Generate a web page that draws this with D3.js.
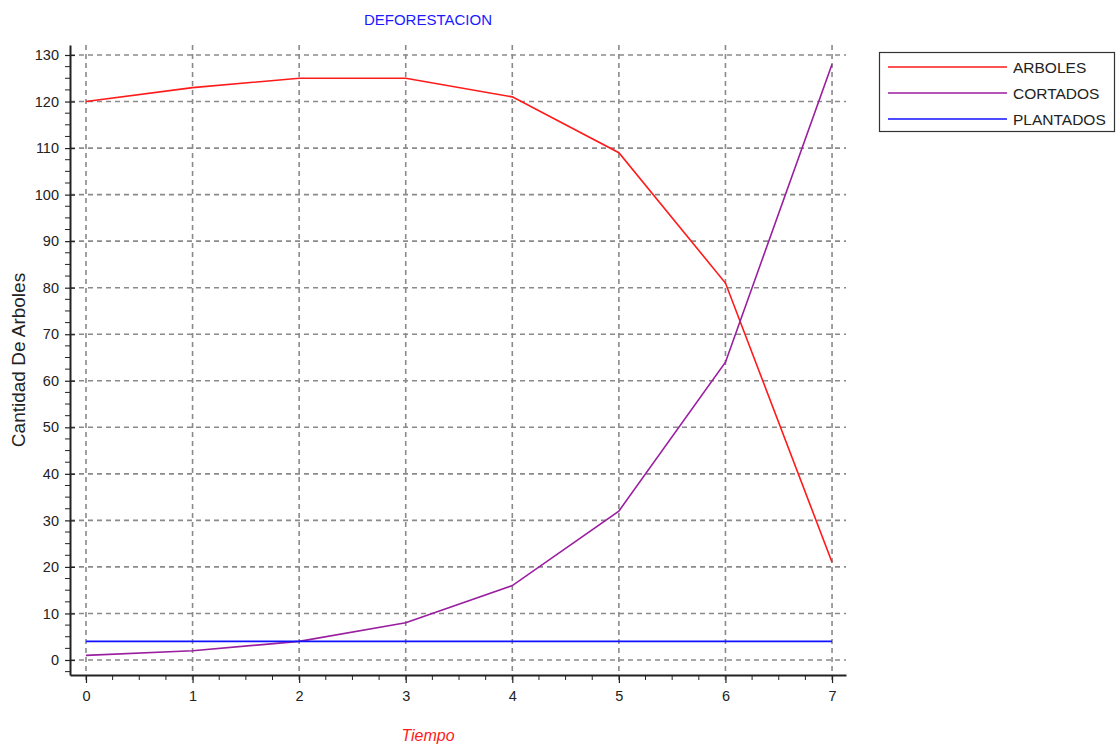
<!DOCTYPE html>
<html><head><meta charset="utf-8">
<script src="https://cdn.jsdelivr.net/npm/d3@7"></script>
<style>
body{margin:0;background:#fff;}
svg{display:block;font-family:"Liberation Sans",Arial,sans-serif;}
</style></head>
<body>
<svg id="c" width="1116" height="746"></svg>
<script>
const tiempo = [0, 1, 2, 3, 4, 5, 6, 7];
const arboles = [120, 123, 125, 125, 121, 109, 81, 21];
const cortados = [1, 2, 4, 8, 16, 32, 64, 128];
const plantados = [4, 4, 4, 4, 4, 4, 4, 4];
const seriesNames = ["ARBOLES", "CORTADOS", "PLANTADOS"];
const seriesColors = ["#ff1a1a", "#9a1ea0", "#1010ff"];
const yTickValues = [0, 10, 20, 30, 40, 50, 60, 70, 80, 90, 100, 110, 120, 130];
const xTickValues = [0, 1, 2, 3, 4, 5, 6, 7];
const xMinor = [];
for (let v = 0.25; v < 7.1; v += 0.25) if (Math.abs(v - Math.round(v)) > 1e-6) xMinor.push(v);
const yMinor = [];
for (let v = -2.5; v < 131; v += 2.5) if (Math.abs(v / 10 - Math.round(v / 10)) > 1e-6) yMinor.push(v);

const svg = d3.select("#c");
const x = d3.scaleLinear().domain([-0.15, 7.131]).range([70, 846]);
const y = d3.scaleLinear().domain([-3.223, 132.15]).range([675, 45]);

// grid
const grid = svg.append("g").attr("stroke", "#8a8a8a").attr("stroke-width", 1.6).attr("stroke-dasharray", "5,4");
grid.selectAll("line.h").data(yTickValues).join("line")
  .attr("x1", x.range()[0]).attr("x2", x.range()[1])
  .attr("y1", d => y(d)).attr("y2", d => y(d));
grid.selectAll("line.v").data(xTickValues).join("line")
  .attr("x1", d => x(d)).attr("x2", d => x(d))
  .attr("y1", y.range()[1]).attr("y2", y.range()[0] + 8);

// axes
const yAxis = svg.append("g").attr("transform", `translate(${x.range()[0]},0)`)
  .call(d3.axisLeft(y).tickValues(yTickValues).tickSizeOuter(0).tickSizeInner(5).tickPadding(6));
yAxis.selectAll(".tick line").attr("x2", -5).attr("x1", 5);
yAxis.append("g").selectAll("line").data(yMinor).join("line")
  .attr("x1", -5).attr("x2", 0).attr("y1", d => y(d)).attr("y2", d => y(d)).attr("stroke", "#222");

const xAxis = svg.append("g").attr("transform", `translate(0,${y.range()[0]})`)
  .call(d3.axisBottom(x).tickValues(xTickValues).tickSizeOuter(0).tickSizeInner(8).tickPadding(8));
xAxis.append("g").selectAll("line").data(xMinor).join("line")
  .attr("x1", d => x(d)).attr("x2", d => x(d)).attr("y1", 0).attr("y2", 5).attr("stroke", "#222");

[yAxis, xAxis].forEach(a => {
  a.select(".domain").attr("stroke", "#222").attr("stroke-width", 2);
  a.selectAll(".tick line").attr("stroke", "#222").attr("stroke-width", 1.2);
  a.selectAll(".tick text").attr("fill", "#222").style("font-size", "14.5px").style("font-family", "'Liberation Sans',Arial,sans-serif");
});

// lines
const seriesData = [arboles, cortados, plantados];
const line = d3.line().x((d, i) => x(tiempo[i])).y(d => y(d));
svg.append("g").selectAll("path").data(seriesData).join("path")
  .attr("d", d => line(d)).attr("fill", "none")
  .attr("stroke", (d, i) => seriesColors[i]).attr("stroke-width", 1.6);

// title & labels
svg.append("text").attr("x", 428).attr("y", 25).attr("text-anchor", "middle")
  .attr("fill", "#1a1aff").style("font-size", "15px").text("DEFORESTACION");
svg.append("text").attr("x", 428).attr("y", 741).attr("text-anchor", "middle")
  .attr("fill", "#ff1a1a").style("font-size", "16px").style("font-style", "italic").text("Tiempo");
svg.append("text").attr("transform", "translate(25,360) rotate(-90)").attr("text-anchor", "middle")
  .attr("fill", "#222").style("font-size", "19px").text("Cantidad De Arboles");

// legend
const lg = svg.append("g");
lg.append("rect").attr("x", 879.5).attr("y", 52.5).attr("width", 235).attr("height", 79)
  .attr("fill", "#fff").attr("stroke", "#333").attr("stroke-width", 1.2);
const items = lg.selectAll("g").data(seriesNames).join("g")
  .attr("transform", (d, i) => `translate(0,${67 + i * 26})`);
items.append("line").attr("x1", 888).attr("x2", 1007).attr("y1", 0).attr("y2", 0)
  .attr("stroke", (d, i) => seriesColors[i]).attr("stroke-width", 1.6);
items.append("text").attr("x", 1013).attr("y", 5.5).attr("fill", "#222").style("font-size", "15.5px").text(d => d);
</script>
</body></html>
